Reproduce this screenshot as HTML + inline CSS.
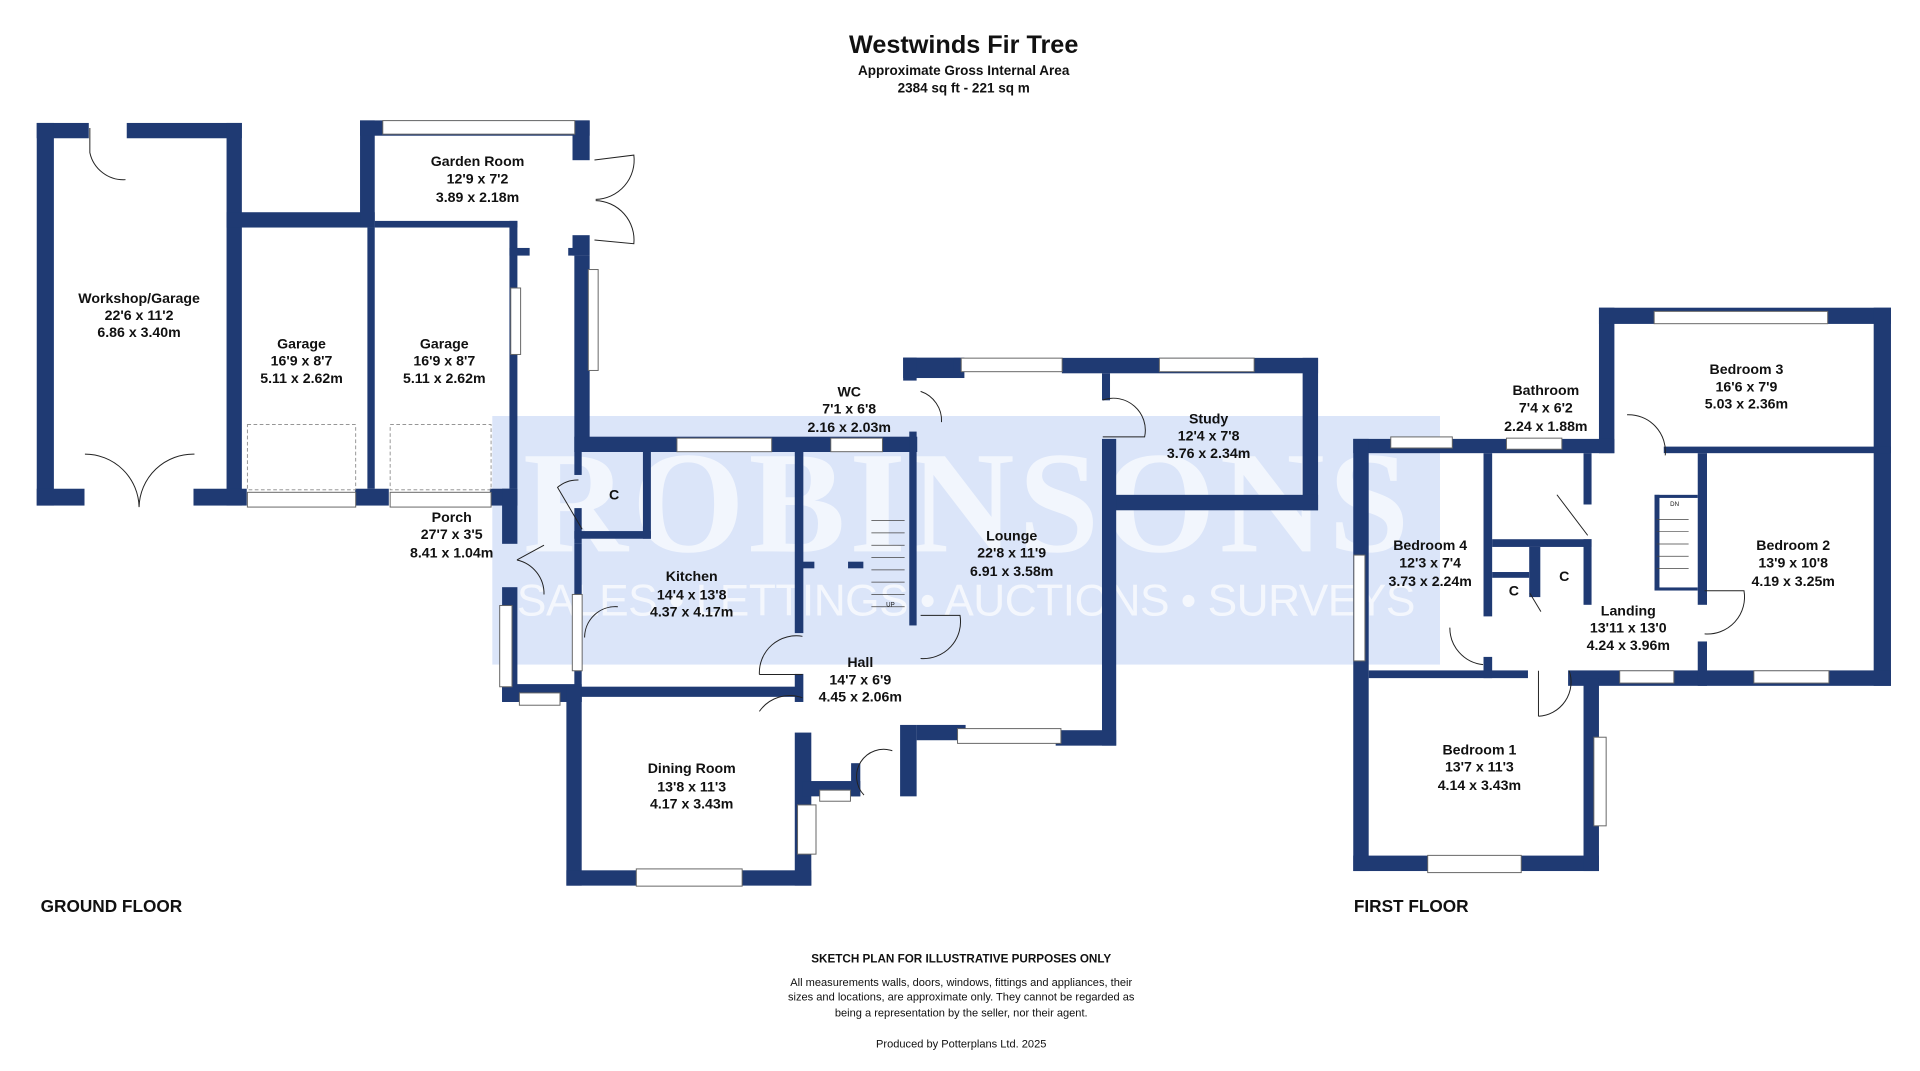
<!DOCTYPE html>
<html><head><meta charset="utf-8"><style>
html,body{margin:0;padding:0;background:#fff;overflow:hidden;}
svg{display:block;}
text{font-family:"Liberation Sans",Arial,sans-serif;fill:#111;}
.r{font-size:11.5px;font-weight:bold;text-anchor:middle;}
</style></head><body>
<svg width="1920" height="1071" viewBox="0 0 1560 870.2" preserveAspectRatio="none" xmlns="http://www.w3.org/2000/svg">
<rect width="1560" height="871" fill="#fff"/>
<!-- watermark -->
<rect x="400" y="338" width="770" height="202" fill="#dbe5f9"/>
<text x="785" y="448" font-size="118" font-weight="bold" text-anchor="middle" style="font-family:'Liberation Serif',serif;fill:#f2f6fd" textLength="720">ROBINSONS</text>
<text x="785" y="500" font-size="36" text-anchor="middle" style="fill:#f4f7fd" textLength="730">SALES • LETTINGS • AUCTIONS • SURVEYS</text>

<g fill="#1f3a73">
<!-- ground floor, zoom1 coords -->
<g transform="translate(0,81.25) scale(0.4975,0.4145)">
<rect x="60" y="45" width="85" height="30"/><rect x="207" y="45" width="188" height="30"/>
<rect x="60" y="45" width="28" height="750"/>
<rect x="370" y="45" width="25" height="750"/>
<rect x="370" y="220" width="242" height="30"/><rect x="612" y="237" width="233" height="13"/>
<rect x="60" y="762" width="78" height="33"/><rect x="316" y="762" width="87" height="33"/>
<rect x="580" y="762" width="55" height="33"/><rect x="800" y="762" width="45" height="33"/>
<rect x="600" y="250" width="12" height="512"/>
<rect x="832" y="237" width="13" height="525"/><rect x="832" y="290" width="33" height="15"/>
<rect x="588" y="40" width="24" height="210"/><rect x="588" y="40" width="375" height="30"/>
<rect x="935" y="40" width="28" height="78"/><rect x="935" y="265" width="28" height="40"/><rect x="928" y="290" width="17" height="15"/>
<rect x="938" y="305" width="25" height="385"/>
<rect x="938" y="660" width="560" height="30"/>
<rect x="938" y="690" width="12" height="45"/><rect x="1050" y="690" width="13" height="170"/><rect x="938" y="845" width="125" height="15"/>
<rect x="938" y="800" width="12" height="70"/>
<rect x="820" y="762" width="25" height="108"/>
<rect x="820" y="955" width="25" height="225"/><rect x="820" y="1145" width="130" height="35"/>
<rect x="938" y="870" width="12" height="310"/>
<rect x="938" y="1150" width="372" height="20"/>
<rect x="1298" y="690" width="14" height="355"/><rect x="1298" y="1125" width="14" height="55"/>
<rect x="925" y="1150" width="25" height="390"/><rect x="925" y="1510" width="400" height="30"/>
<rect x="1298" y="1240" width="27" height="300"/><rect x="1310" y="1335" width="95" height="30"/>
<rect x="1390" y="1300" width="15" height="65"/>
<rect x="1470" y="1225" width="27" height="140"/>
<rect x="1485" y="650" width="12" height="380"/>
<rect x="1310" y="905" width="20" height="13"/><rect x="1385" y="905" width="25" height="13"/>
<rect x="1475" y="505" width="100" height="40"/><rect x="1475" y="505" width="22" height="45"/>
<rect x="1497" y="1225" width="80" height="30"/>
</g>
<!-- lounge/study + first floor, zoom2 coords -->
<g transform="translate(780,243.75) scale(0.5016,0.3135)">
<rect x="-10" y="150" width="10" height="40"/>
<rect x="165" y="150" width="415" height="40"/>
<rect x="555" y="150" width="25" height="395"/><rect x="230" y="505" width="350" height="40"/>
<rect x="230" y="190" width="13" height="70"/><rect x="230" y="360" width="23" height="795"/>
<rect x="155" y="1115" width="98" height="40"/>
<!-- first floor -->
<rect x="1035" y="20" width="25" height="377"/><rect x="1035" y="20" width="473" height="42"/>
<rect x="1480" y="20" width="28" height="980"/><rect x="1140" y="380" width="368" height="17"/>
<rect x="637" y="360" width="423" height="37"/><rect x="637" y="360" width="25" height="1120"/>
<rect x="848" y="397" width="14" height="423"/><rect x="848" y="925" width="14" height="55"/>
<rect x="1010" y="397" width="13" height="133"/><rect x="1010" y="620" width="13" height="170"/>
<rect x="862" y="620" width="161" height="20"/><rect x="922" y="640" width="18" height="130"/>
<rect x="862" y="705" width="60" height="15"/>
<rect x="662" y="960" width="258" height="20"/><rect x="985" y="960" width="523" height="40"/>
<rect x="1195" y="397" width="15" height="393"/><rect x="1195" y="885" width="15" height="115"/>
<rect x="637" y="1440" width="398" height="40"/>
<rect x="1010" y="980" width="25" height="500"/>
<rect x="1125" y="505" width="70" height="8"/><rect x="1125" y="505" width="8" height="245"/><rect x="1125" y="745" width="70" height="8"/>
</g>
</g>

<!-- windows -->
<g fill="#fff" stroke="#666" stroke-width="0.8">
<rect x="201" y="400" width="88" height="12"/><rect x="317" y="400" width="82" height="12"/>
<rect x="311" y="98" width="156" height="11"/>
<rect x="415" y="234" width="8" height="54"/><rect x="478" y="219" width="8" height="82"/>
<rect x="550" y="356" width="77" height="11"/><rect x="675" y="356" width="42" height="11"/>
<rect x="406" y="492" width="10" height="66"/>
<rect x="465" y="483" width="8" height="62"/><rect x="422" y="563" width="33" height="10"/>
<rect x="517" y="706" width="86" height="14"/><rect x="648" y="654" width="15" height="40"/>
<rect x="666" y="642" width="25" height="9"/>
<rect x="781" y="291" width="82" height="11"/><rect x="942" y="291" width="77" height="11"/>
<rect x="778" y="592" width="84" height="12"/>
<rect x="1344" y="253" width="141" height="10"/><rect x="1130" y="355" width="50" height="9"/><rect x="1224" y="356" width="45" height="9"/>
<rect x="1100" y="451" width="9" height="86"/><rect x="1316" y="545" width="44" height="10"/><rect x="1425" y="545" width="61" height="10"/>
<rect x="1160" y="695" width="76" height="14"/><rect x="1295" y="599" width="10" height="72"/>
</g>
<!-- garage dashed -->
<g fill="none" stroke="#888" stroke-width="0.7" stroke-dasharray="3,2">
<rect x="201" y="345" width="88" height="53"/><rect x="317" y="345" width="82" height="53"/>
</g>
<!-- doors -->
<g fill="none" stroke="#222" stroke-width="0.8">
<path d="M73 104 V124 A28 28 0 0 0 102 146"/>
<path d="M69 369 A44 44 0 0 1 113 412 M158 369 A44 44 0 0 0 113 412"/>
<path d="M483 130 L515 126 A32 32 0 0 1 484 162 M483 195 L515 198 A32 32 0 0 0 484 163"/>
<path d="M420 455 L442 443 M420 455 A28 28 0 0 1 442 483"/>
<path d="M473 430 L453 396 A25 25 0 0 1 470 390"/>
<path d="M475 518 A25 25 0 0 1 502 493"/>
<path d="M617 548 A30 30 0 0 1 652 517 M652 548 H617"/>
<path d="M652 567 A30 30 0 0 0 617 578"/>
<path d="M748 500 H780 A30 30 0 0 1 748 535"/>
<path d="M702 646 A22 22 0 0 1 725 610"/>
<path d="M748 318 A25 25 0 0 1 765 343"/>
<path d="M896 325 A26 26 0 0 1 930 355 H896"/>
<path d="M1322 337 A30 30 0 0 1 1353 370"/>
<path d="M1178 510 A30 30 0 0 0 1205 540"/>
<path d="M1385 515 A30 30 0 0 0 1417 480 H1385"/>
<path d="M1250 582 A28 28 0 0 0 1275 545 M1250 545 V582"/>
<path d="M1265 402 L1290 435 M1243 482 L1252 497"/>
</g>
<!-- stairs -->
<g stroke="#444" stroke-width="0.6">
<path d="M708 423 H735 M708 433 H735 M708 443 H735 M708 453 H735 M708 463 H735 M708 473 H735 M708 483 H735 M708 493 H735"/>
<path d="M1346 422 H1372 M1346 432 H1372 M1346 442 H1372 M1346 452 H1372 M1346 462 H1372"/>
</g>
<text x="720" y="493" font-size="5">UP</text><text x="1357" y="411" font-size="5">DN</text>

<!-- titles -->
<text x="783" y="43" font-size="20.5" font-weight="bold" text-anchor="middle">Westwinds Fir Tree</text>
<text x="783" y="61" font-size="11" font-weight="bold" text-anchor="middle">Approximate Gross Internal Area</text>
<text x="783" y="75" font-size="11" font-weight="bold" text-anchor="middle">2384 sq ft - 221 sq m</text>

<g>
<text class="r" x="113" y="246">Workshop/Garage</text><text class="r" x="113" y="260">22'6 x 11'2</text><text class="r" x="113" y="274">6.86 x 3.40m</text>
<text class="r" x="245" y="283">Garage</text><text class="r" x="245" y="297">16'9 x 8'7</text><text class="r" x="245" y="311">5.11 x 2.62m</text>
<text class="r" x="361" y="283">Garage</text><text class="r" x="361" y="297">16'9 x 8'7</text><text class="r" x="361" y="311">5.11 x 2.62m</text>
<text class="r" x="388" y="135">Garden Room</text><text class="r" x="388" y="149">12'9 x 7'2</text><text class="r" x="388" y="164">3.89 x 2.18m</text>
<text class="r" x="367" y="424">Porch</text><text class="r" x="367" y="438">27'7 x 3'5</text><text class="r" x="367" y="453">8.41 x 1.04m</text>
<text class="r" x="690" y="322">WC</text><text class="r" x="690" y="336">7'1 x 6'8</text><text class="r" x="690" y="351">2.16 x 2.03m</text>
<text class="r" x="562" y="472">Kitchen</text><text class="r" x="562" y="487">14'4 x 13'8</text><text class="r" x="562" y="501">4.37 x 4.17m</text>
<text class="r" x="822" y="439">Lounge</text><text class="r" x="822" y="453">22'8 x 11'9</text><text class="r" x="822" y="468">6.91 x 3.58m</text>
<text class="r" x="982" y="344">Study</text><text class="r" x="982" y="358">12'4 x 7'8</text><text class="r" x="982" y="372">3.76 x 2.34m</text>
<text class="r" x="699" y="542">Hall</text><text class="r" x="699" y="556">14'7 x 6'9</text><text class="r" x="699" y="570">4.45 x 2.06m</text>
<text class="r" x="562" y="628">Dining Room</text><text class="r" x="562" y="643">13'8 x 11'3</text><text class="r" x="562" y="657">4.17 x 3.43m</text>
<text class="r" x="1256" y="321">Bathroom</text><text class="r" x="1256" y="335">7'4 x 6'2</text><text class="r" x="1256" y="350">2.24 x 1.88m</text>
<text class="r" x="1419" y="304">Bedroom 3</text><text class="r" x="1419" y="318">16'6 x 7'9</text><text class="r" x="1419" y="332">5.03 x 2.36m</text>
<text class="r" x="1162" y="447">Bedroom 4</text><text class="r" x="1162" y="461">12'3 x 7'4</text><text class="r" x="1162" y="476">3.73 x 2.24m</text>
<text class="r" x="1457" y="447">Bedroom 2</text><text class="r" x="1457" y="461">13'9 x 10'8</text><text class="r" x="1457" y="476">4.19 x 3.25m</text>
<text class="r" x="1323" y="500">Landing</text><text class="r" x="1323" y="514">13'11 x 13'0</text><text class="r" x="1323" y="528">4.24 x 3.96m</text>
<text class="r" x="1202" y="613">Bedroom 1</text><text class="r" x="1202" y="627">13'7 x 11'3</text><text class="r" x="1202" y="642">4.14 x 3.43m</text>
<text class="r" x="499" y="406">C</text><text class="r" x="1230" y="484">C</text><text class="r" x="1271" y="472">C</text>
</g>
<text x="33" y="741" font-size="14" font-weight="bold">GROUND FLOOR</text>
<text x="1100" y="741" font-size="14" font-weight="bold">FIRST FLOOR</text>
<text x="781" y="782" font-size="9.5" font-weight="bold" text-anchor="middle">SKETCH PLAN FOR ILLUSTRATIVE PURPOSES ONLY</text>
<text x="781" y="801" font-size="9" text-anchor="middle">All measurements walls, doors, windows, fittings and appliances, their</text>
<text x="781" y="813" font-size="9" text-anchor="middle">sizes and locations, are approximate only. They cannot be regarded as</text>
<text x="781" y="826" font-size="9" text-anchor="middle">being a representation by the seller, nor their agent.</text>
<text x="781" y="851" font-size="9" text-anchor="middle">Produced by Potterplans Ltd. 2025</text>
</svg>
</body></html>
